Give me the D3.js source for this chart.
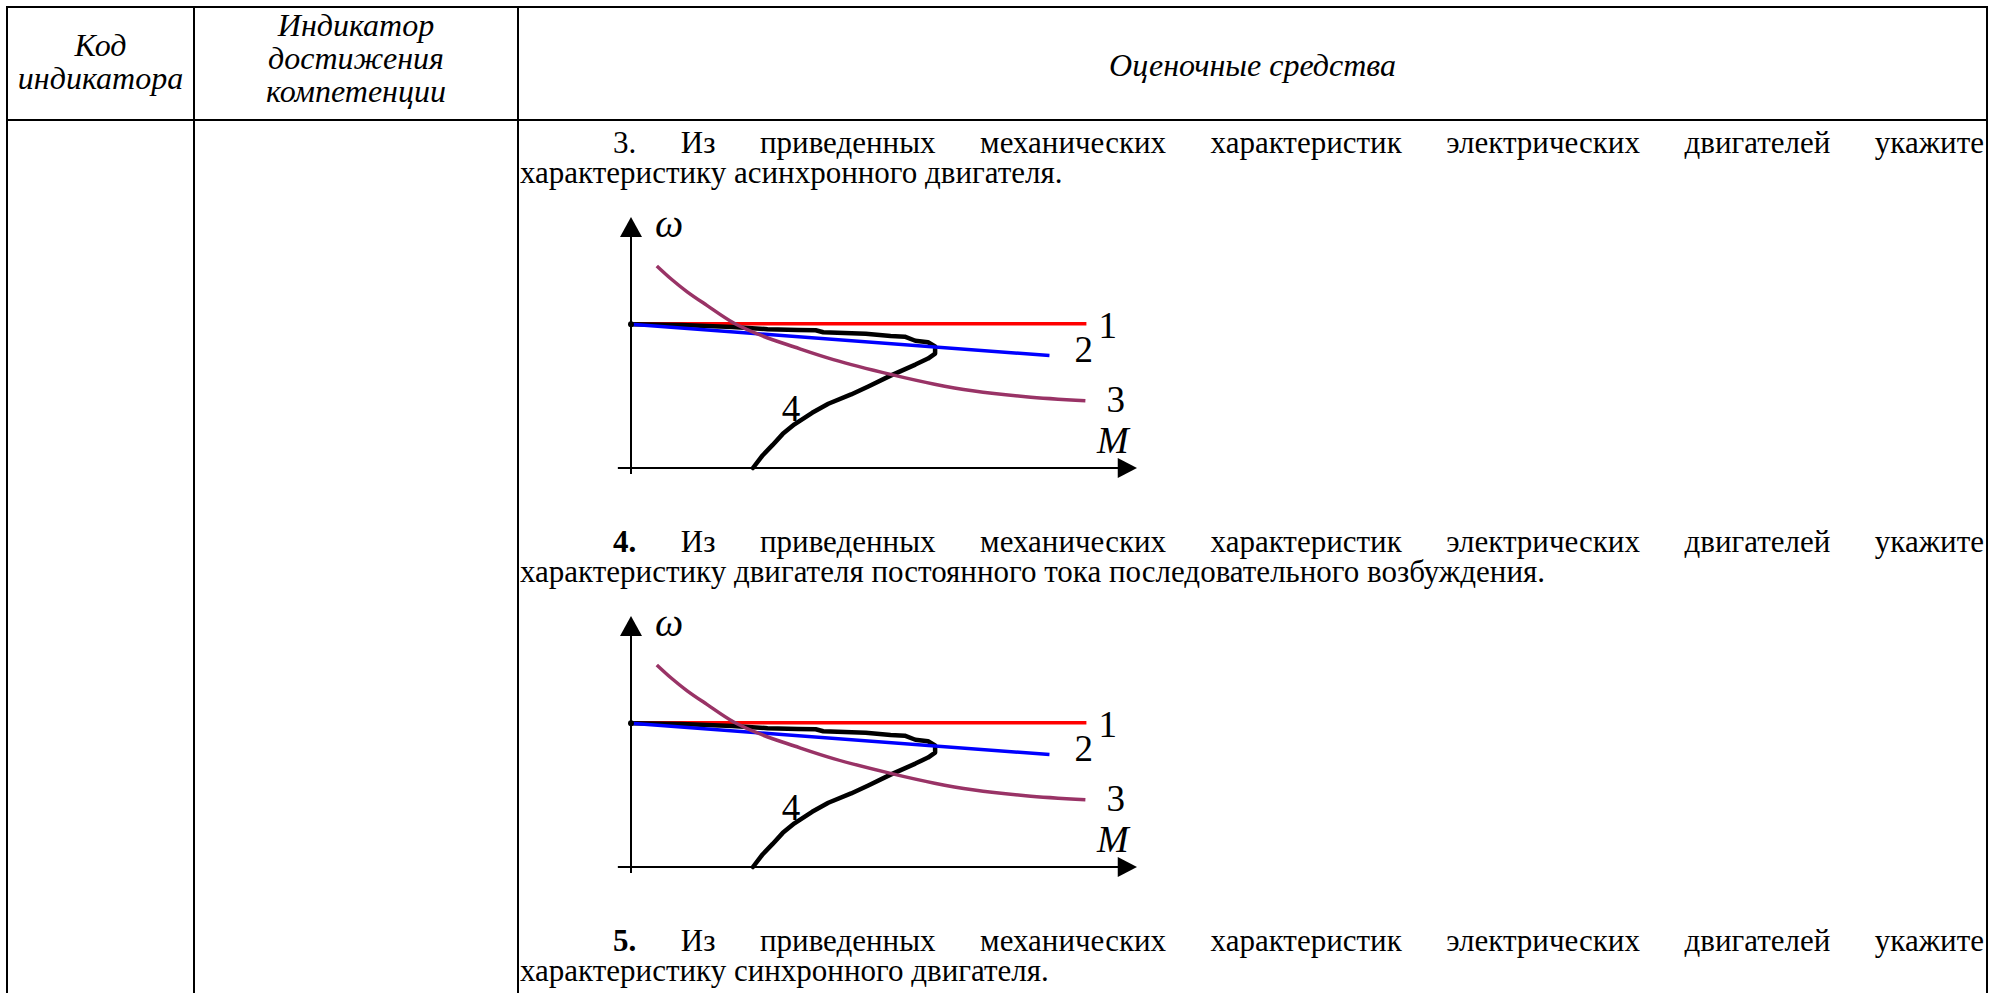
<!DOCTYPE html>
<html><head><meta charset="utf-8">
<script src="https://cdn.jsdelivr.net/npm/d3@7"></script>
<style>html,body{margin:0;padding:0;background:#fff;overflow:hidden} svg{display:block}</style>
</head><body><div id="chart"></div>
<script>
// ---------- data ----------
const headerCode = ["Код", "индикатора"];
const headerIndicator = ["Индикатор", "достижения", "компетенции"];
const headerTools = ["Оценочные средства"];
const questionNumbers = ["3.", "4.", "5."];
const questionBold = [false, true, true];
const questionLine1 = ["Из", "приведенных", "механических", "характеристик", "электрических", "двигателей", "укажите"];
const questionLine2 = [
  "характеристику асинхронного двигателя.",
  "характеристику двигателя постоянного тока последовательного возбуждения.",
  "характеристику синхронного двигателя."
];
const curveLabels = ["1", "2", "3", "4"];
const axisLabelY = "ω";
const axisLabelX = "M";
// characteristic curves, (M, ω) in relative units 0..100
const curve1 = [[0, 57.5], [90, 57.5]];
const curve2 = [[0, 57.3], [82.7, 44.8]];
const curve3 = [[5.1, 80.5], [8, 75.2], [11.1, 70.2], [15, 64.8], [20.3, 57.8], [26, 52.6], [32.3, 48.2],
                [40, 43.2], [51.3, 37.3], [60, 33.4], [67.5, 30.8], [78, 28.4], [89.8, 26.8]];
const curve4 = [[0, 57.3], [10, 57.0], [20, 56.2], [27, 55.3], [33, 55.0], [36.5, 54.9], [38, 54.1],
                [46.4, 53.5], [51.3, 52.6], [54.1, 52.3], [56.2, 50.7], [58.7, 50.1], [60.1, 48.4],
                [60.1, 45.6], [58.7, 43.6], [56.2, 41.2], [51.3, 36.8], [47, 32.6], [43.5, 29.3],
                [39, 25.6], [35.8, 22.0], [32.3, 17.4], [30, 13.6], [28, 9.2], [26, 5], [24.1, 0]];

// ---------- layout ----------
const W = 2006, H = 993;
const tbl = {left: 7, c1: 194, c2: 518, right: 1987, top: 7, head: 120, bottom: 1000};
const textLeft = 520, textRight = 1984, indentX = 613;
const paraBase = [153, 552, 951];
const lineGap = 30;
const bodySize = 31;
const chartTop = [217, 616];
const chartLeft = 631, chartW = 506, chartH = 251;
const serif = "'Liberation Serif','Times New Roman',serif";

const svg = d3.select("#chart").append("svg").attr("width", W).attr("height", H);

// table
const grid = svg.append("g").attr("stroke", "#000").attr("stroke-width", 2).attr("fill", "none");
grid.append("line").attr("x1", tbl.left).attr("x2", tbl.right).attr("y1", tbl.top).attr("y2", tbl.top);
grid.append("line").attr("x1", tbl.left).attr("x2", tbl.right).attr("y1", tbl.head).attr("y2", tbl.head);
[tbl.left, tbl.c1, tbl.c2, tbl.right].forEach(x =>
  grid.append("line").attr("x1", x).attr("x2", x).attr("y1", tbl.top - 1).attr("y2", tbl.bottom));

// header text
function headerBlock(lines, cx, baselines) {
  lines.forEach((t, i) => svg.append("text").attr("x", cx).attr("y", baselines[i])
    .attr("text-anchor", "middle").attr("font-family", serif).attr("font-style", "italic")
    .attr("font-size", 32).attr("fill", "#000").text(t));
}
headerBlock(headerCode, (tbl.left + tbl.c1) / 2, [56, 89]);
headerBlock(headerIndicator, (tbl.c1 + tbl.c2) / 2, [36, 69, 102]);
headerBlock(headerTools, (tbl.c2 + tbl.right) / 2, [76]);

// paragraphs (justified first line)
questionNumbers.forEach((num, qi) => {
  const base = paraBase[qi];
  const words = [num].concat(questionLine1);
  const nodes = words.map((w, wi) => svg.append("text").attr("y", base)
    .attr("font-family", serif).attr("font-size", bodySize)
    .attr("font-weight", wi === 0 && questionBold[qi] ? "bold" : "normal").attr("fill", "#000").text(w));
  const widths = nodes.map(n => n.node().getComputedTextLength());
  const gap = (textRight - indentX - d3.sum(widths)) / (words.length - 1);
  let x = indentX;
  nodes.forEach((n, i) => { n.attr("x", x); x += widths[i] + gap; });
  svg.append("text").attr("x", textLeft).attr("y", base + lineGap)
    .attr("font-family", serif).attr("font-size", bodySize).attr("fill", "#000").text(questionLine2[qi]);
});

// charts
const x = d3.scaleLinear().domain([0, 100]).range([0, chartW]);
const y = d3.scaleLinear().domain([0, 100]).range([chartH, 0]);
const line = d3.line().x(d => x(d[0])).y(d => y(d[1]));
const curveSmooth = d3.line().x(d => x(d[0])).y(d => y(d[1])).curve(d3.curveCatmullRom.alpha(0.5));

chartTop.forEach(top => {
  const g = svg.append("g").attr("transform", `translate(${chartLeft},${top})`);
  // axes
  g.append("line").attr("x1", x(-2.6)).attr("x2", x(97)).attr("y1", y(0)).attr("y2", y(0))
    .attr("stroke", "#000").attr("stroke-width", 2);
  g.append("line").attr("x1", x(0)).attr("x2", x(0)).attr("y1", y(-2.4)).attr("y2", y(94))
    .attr("stroke", "#000").attr("stroke-width", 2);
  g.append("path").attr("d", `M${x(100)},${y(0)} L${x(96.2)},${y(0) - 10} L${x(96.2)},${y(0) + 10} Z`).attr("fill", "#000");
  g.append("path").attr("d", `M${x(0)},${y(100)} L${x(0) - 11},${y(92)} L${x(0) + 11},${y(92)} Z`).attr("fill", "#000");

  g.append("path").attr("d", line(curve1)).attr("fill", "none").attr("stroke", "#ff0000").attr("stroke-width", 3.5);
  g.append("path").attr("d", line(curve4)).attr("fill", "none").attr("stroke", "#000").attr("stroke-width", 4.5)
    .attr("stroke-linejoin", "round").attr("stroke-linecap", "round");
  g.append("path").attr("d", line(curve2)).attr("fill", "none").attr("stroke", "#0000ff").attr("stroke-width", 3.5);
  g.append("path").attr("d", curveSmooth(curve3)).attr("fill", "none").attr("stroke", "#993366").attr("stroke-width", 3.5);
  g.append("circle").attr("cx", x(0)).attr("cy", y(curve4[0][1])).attr("r", 3).attr("fill", "#000");

  const lab = (t, px, py, italic, size) => g.append("text").attr("x", px).attr("y", py)
    .attr("font-family", serif).attr("font-size", size).attr("font-style", italic ? "italic" : "normal")
    .attr("fill", "#000").text(t);
  const e1 = curve1[curve1.length - 1], e2 = curve2[curve2.length - 1], e3 = curve3[curve3.length - 1];
  lab(curveLabels[0], x(e1[0]) + 12, y(e1[1]) + 14, false, 37);
  lab(curveLabels[1], x(e2[0]) + 25, y(e2[1]) + 6, false, 37);
  lab(curveLabels[2], x(e3[0]) + 21, y(e3[1]) + 11, false, 37);
  lab(curveLabels[3], x(29.8), y(18.6), false, 37);
  lab(axisLabelX, x(100) - 40, y(0) - 15, true, 38);
  lab(axisLabelY, x(0) + 24, y(100) + 20, true, 40);
});
</script>
</body></html>
